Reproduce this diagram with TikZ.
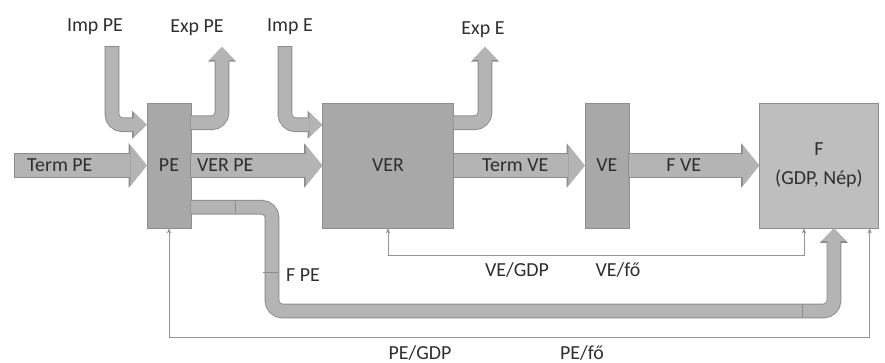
\documentclass[tikz,border=0pt]{standalone}
\usepackage{fontspec}
\setmainfont{Carlito}
\usetikzlibrary{arrows.meta,positioning,calc}
\definecolor{boxgray}{HTML}{A8A8A8}
\definecolor{boxlight}{HTML}{BEBEBE}
\definecolor{boxline}{HTML}{8E8E8E}
\definecolor{pipefill}{HTML}{B4B4B4}
\definecolor{pipeline}{HTML}{8C8C8C}
\definecolor{txt}{HTML}{2E2E2E}
\definecolor{thinline}{HTML}{959595}

\begin{document}
\begin{tikzpicture}[
  x=0.03cm, y=-0.03cm,
  node distance=3.93cm,
  font=\fontsize{17}{24.5}\selectfont, text=txt,
  box/.style={draw=boxline, fill=boxgray, minimum height=3.75cm, inner sep=2pt, align=center},
  narrow/.style={box, minimum width=1.32cm},
  lbl/.style={inner sep=1pt},
  fat/.style={line width=19pt, draw=pipefill,
    -{Triangle[length=14pt, width=35pt, line width=0pt, fill=pipefill, color=pipefill]},
    preaction={draw=pipeline, line width=20.6pt, shorten <=-0.8pt,
      -{Triangle[length=15.5pt, width=38pt, line width=0pt, fill=pipeline, color=pipeline]}}},
  bent/.style={line width=11pt, draw=pipefill, rounded corners=9pt,
    -{Triangle[length=11pt, width=21pt, line width=0pt, fill=pipefill, color=pipefill]},
    preaction={draw=pipeline, line width=12.6pt, shorten <=-0.8pt,
      -{Triangle[length=12.5pt, width=24pt, line width=0pt, fill=pipeline, color=pipeline]}}},
  link/.style={draw=thinline, line width=0.6pt,
    {Stealth[length=4.5pt, width=3.8pt]}-{Stealth[length=4.5pt, width=3.8pt]}},
]
\useasboundingbox (0,0) rectangle (885,363);

% blocks
\node[narrow] (pe) at (169,165.5) {PE};
\node[box, minimum width=3.93cm, right=of pe] (ver) {VER};
\node[narrow, right=of ver] (ve) {VE};
\node[box, fill=boxlight, minimum width=3.57cm, right=3.9cm of ve] (f) {F\\(GDP, Nép)};

% outer labels and free ends
\node[lbl] (imppe) at (95,27) {Imp PE};
\node[lbl] (exppe) at (197,28) {Exp PE};
\node[lbl] (impe) at (290,27) {Imp E};
\node[lbl] (expe) at (483,30) {Exp E};
\coordinate (imppe-in) at (112,47);
\coordinate (exppe-out) at (222,47);
\coordinate (impe-in) at (285,47);
\coordinate (expe-out) at (485,47);
\coordinate (termpe-in) at (15,165.5);
\coordinate (fpe-low) at (272,311);

% imports / exports
\draw[bent] (imppe-in) |- ($(pe.north west)+(0,22)$);
\draw[bent] ($(pe.north east)+(0,20)$) -| (exppe-out);
\draw[bent] (impe-in) |- ($(ver.north west)+(0,22)$);
\draw[bent] ($(ver.north east)+(0,20)$) -| (expe-out);

% main flow
\draw[fat] (termpe-in) -- node[pos=0.34] (termpe) {Term PE} (pe.west);
\draw[fat] (pe.east) -- node[pos=0.26] (verpe) {VER PE} (ver.west);
\draw[fat] (ver.east) -- node[pos=0.47] (termve) {Term VE} (ve.west);
\draw[fat] (ve.east) -- node[pos=0.42] (fve) {F VE} (f.west);

% final use of PE
\draw[bent] ($(pe.south east)+(0,-21)$) -| (fpe-low) -| ($(f.south)+(15,0)$);
\draw[pipeline, line width=0.6pt] (235,200) -- (235,213) (263,272) -- (278,272) (802,305) -- (802,317);
\node[lbl] (fpe) at (303,275) {F PE};

% intensities
\draw[link] (ver.south) -- ++(0,27) -| ($(f.south)+(-15,0)$);
\draw[link] (pe.south) -- ++(0,109) -| ($(f.south east)+(-9,0)$);
\node[lbl] (vegdp) at (517,270) {VE/GDP};
\node[lbl] (vefo) at (618,270) {VE/fő};
\node[lbl] (pegdp) at (420,353) {PE/GDP};
\node[lbl] (pefo) at (582,353) {PE/fő};
\end{tikzpicture}
\end{document}
